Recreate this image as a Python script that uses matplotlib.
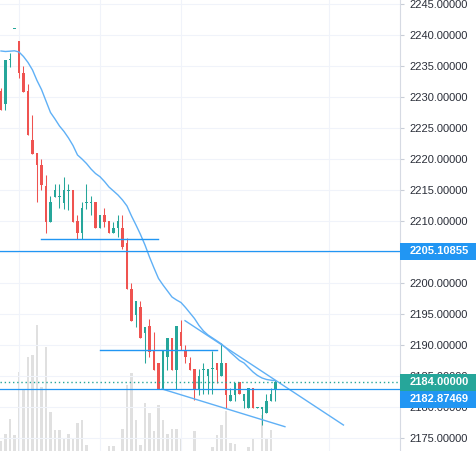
import numpy as np
import matplotlib
matplotlib.use("Agg")
import matplotlib.pyplot as plt
from matplotlib.patches import Rectangle
import matplotlib.transforms as mtransforms

# --- candle data (one entry per bar) ---
opens = [2230.97, 2228.87, 2235.97, 2240.90, 2239.03, 2233.87, 2230.97, 2223.06, 2220.97, 2219.03,
         2215.65, 2209.84, 2213.87, 2213.87, 2212.90, 2214.90, 2215.00, 2210.00, 2208.06, 2212.98,
         2212.98, 2213.06, 2208.87, 2210.97, 2210.00, 2208.06, 2208.87, 2208.87, 2206.45, 2199.03,
         2194.84, 2196.13, 2191.94, 2193.06, 2189.19, 2187.10, 2182.90, 2188.06, 2191.13, 2185.97,
         2192.10, 2189.03, 2187.10, 2186.13, 2182.90, 2185.97, 2185.00, 2186.05, 2187.10, 2185.00,
         2187.10, 2180.97, 2181.94, 2184.03, 2180.97, 2179.89, 2183.06, 2179.90, 2179.60, 2178.98,
         2181.02, 2182.90]
highs = [2231.45, 2235.97, 2237.10, 2241.00, 2239.03, 2235.00, 2232.10, 2227.10, 2220.97, 2220.00,
         2217.42, 2214.03, 2215.97, 2215.97, 2217.10, 2215.97, 2215.00, 2210.97, 2213.06, 2215.97,
         2214.03, 2213.06, 2210.97, 2212.10, 2210.00, 2209.84, 2210.97, 2210.97, 2207.26, 2200.00,
         2197.10, 2197.10, 2192.90, 2194.19, 2192.10, 2187.10, 2189.03, 2191.13, 2191.13, 2193.06,
         2194.03, 2190.00, 2188.06, 2186.13, 2186.13, 2187.10, 2186.13, 2189.03, 2187.10, 2190.32,
         2187.10, 2183.06, 2183.87, 2184.03, 2182.10, 2183.06, 2183.06, 2180.00, 2180.00, 2182.10,
         2183.06, 2184.35]
lows = [2227.90, 2227.90, 2234.84, 2240.90, 2233.06, 2230.81, 2223.87, 2220.81, 2213.06, 2215.00,
        2208.06, 2209.84, 2213.87, 2212.10, 2211.94, 2211.77, 2209.84, 2207.10, 2207.10, 2211.94,
        2210.97, 2208.87, 2208.87, 2209.03, 2208.06, 2208.06, 2207.42, 2205.48, 2199.03, 2193.87,
        2192.90, 2191.13, 2187.10, 2188.06, 2185.97, 2182.90, 2182.90, 2185.97, 2185.97, 2182.90,
        2189.19, 2187.10, 2185.97, 2181.13, 2181.94, 2182.10, 2182.10, 2182.10, 2183.87, 2185.00,
        2179.84, 2180.97, 2180.97, 2182.10, 2179.84, 2179.89, 2179.89, 2179.90, 2177.10, 2178.98,
        2181.02, 2181.02]
closes = [2227.90, 2235.97, 2236.13, 2241.00, 2233.87, 2230.81, 2223.87, 2220.81, 2219.03, 2215.81,
          2209.84, 2213.06, 2215.00, 2214.03, 2215.00, 2215.00, 2209.84, 2208.06, 2212.10, 2213.06,
          2213.06, 2208.87, 2210.97, 2209.84, 2208.06, 2208.87, 2210.00, 2205.81, 2199.03, 2193.87,
          2197.10, 2191.13, 2192.90, 2188.87, 2185.97, 2182.90, 2189.03, 2191.13, 2185.97, 2193.06,
          2189.84, 2188.06, 2185.97, 2182.90, 2185.00, 2186.13, 2186.13, 2186.13, 2185.97, 2187.10,
          2181.94, 2181.94, 2183.87, 2182.10, 2182.10, 2183.06, 2179.89, 2180.00, 2180.00, 2181.02,
          2182.10, 2184.00]

# volume (arbitrary units, only the relative height matters)
volumes = [10, 17, 32, 16, 79, 61, 94, 96, 126, 64,
           104, 39, 21, 21, 13, 17, 12, 28, 31, 6,
           0, 0, 0, 0, 5, 5, 0, 22, 66, 78,
           31, 6, 48, 38, 20, 46, 31, 17, 22, 22,
           13, 0, 0, 20, 0, 0, 0, 4, 16, 26,
           40, 8, 7, 0, 0, 4, 13, 0, 36, 13,
           21, 0]

# moving average drawn on the chart
ma_values = [2237.42, 2237.34, 2237.39, 2237.45, 2237.26, 2236.53, 2235.57, 2234.36, 2232.66, 2231.21,
             2229.35, 2227.50, 2226.45, 2225.32, 2224.44, 2223.39, 2222.18, 2220.65, 2220.00, 2219.27,
             2218.39, 2217.66, 2217.14, 2216.37, 2215.48, 2214.84, 2214.19, 2213.39, 2212.42, 2210.81,
             2209.35, 2207.82, 2206.13, 2204.19, 2202.42, 2200.73, 2199.68, 2198.71, 2197.74, 2197.26,
             2196.85, 2196.05, 2195.16, 2194.27, 2193.15, 2192.26, 2191.61, 2191.13, 2190.65, 2190.16,
             2189.52, 2188.79, 2188.15, 2187.50, 2187.10, 2186.37, 2185.65, 2185.08, 2184.68, 2184.44,
             2184.32, 2184.24]

# drawings: trend lines (bar index, price) and short horizontal segments
upper_trend = ([40.9, 76.1], [2193.92, 2177.09])
lower_trend = ([35.8, 63.1], [2182.90, 2176.82])
segments = [(9.0, 35.0, 2207.05), (22.0, 47.9, 2189.15)]

# full-width price lines
price_line_1 = 2205.10855
price_line_2 = 2182.87469
last_price = 2184.00

price_ticks = list(range(2175, 2250, 5))
time_grid = [4, 22, 40, 73]

GREEN = "#26a69a"
RED = "#ef5350"
BLUE = "#2196f3"
LIGHT_BLUE = "#5fb0f6"
GRID = "#f0f3fa"

idx = np.arange(len(closes))
opens = np.array(opens)
closes = np.array(closes)
up = closes >= opens
colors = np.where(up, GREEN, RED)

fig = plt.figure(figsize=(4.77, 4.51), dpi=100)
fig.patch.set_facecolor("white")
plot_w = 400 / 477

xlim = (-0.22, 88.67)
ylim = (2172.90, 2245.645)

# --- volume in its own axes behind the price axes ---
ax_vol = fig.add_axes([0, 0, plot_w, 1])
ax_vol.bar(idx, volumes, width=0.65, color="#e0e0e0", linewidth=0)
ax_vol.set_xlim(*xlim)
ax_vol.set_ylim(0, 451)
ax_vol.axis("off")

# --- price axes ---
ax = fig.add_axes([0, 0, plot_w, 1], zorder=2)
ax.patch.set_alpha(0)
ax.set_xlim(*xlim)
ax.set_ylim(*ylim)

# grid
for p in price_ticks:
    ax.axhline(p, color=GRID, lw=0.8, zorder=0)
for t in time_grid:
    ax.axvline(t, color=GRID, lw=0.8, zorder=0)

# candles: wicks then bodies
ax.vlines(idx, lows, highs, colors=colors, lw=0.75, zorder=3)
body_low = np.minimum(opens, closes)
body_h = np.maximum(np.abs(closes - opens), 0.16)
ax.bar(idx, body_h, bottom=body_low, width=0.65, color=colors, linewidth=0, zorder=4)

# moving average
ax.plot(idx, ma_values, color=LIGHT_BLUE, lw=1.0, zorder=5)

# trend lines and horizontal drawings
ax.plot(upper_trend[0], upper_trend[1], color=LIGHT_BLUE, lw=1.0, zorder=5)
ax.plot(lower_trend[0], lower_trend[1], color=LIGHT_BLUE, lw=1.0, zorder=5)
for x0, x1, p in segments:
    ax.plot([x0, x1], [p, p], color=BLUE, lw=1.0, zorder=5)

ax.axhline(price_line_1, color=BLUE, lw=0.9, zorder=5)
ax.axhline(price_line_2, color=BLUE, lw=0.9, zorder=5)
ax.axhline(last_price, color=GREEN, lw=1.0, ls=(0, (1, 2)), zorder=5)

# right price scale
for s in ["top", "left", "bottom"]:
    ax.spines[s].set_visible(False)
ax.spines["right"].set_color("#d6dae3")
ax.spines["right"].set_linewidth(0.8)
ax.set_xticks([])
ax.yaxis.tick_right()
ax.set_yticks(price_ticks)
# the 2205 label sits fully under the coloured price label, so leave it blank
ax.set_yticklabels(["" if p == 2205 else f"{p:.5f}" for p in price_ticks])
ax.tick_params(axis="y", length=3, width=0.8, color="#c9ced8", pad=4,
               labelsize=8, labelcolor="#2a2e39")
for lbl in ax.get_yticklabels():
    lbl.set_fontfamily("Liberation Sans")

# coloured price labels on the scale
trans = mtransforms.blended_transform_factory(ax.transAxes, ax.transData)
box_h = 17 / 6.2
box_w = 77 / 400
label_list = [(price_line_1, price_line_1, BLUE),
              (last_price, last_price, GREEN),
              (price_line_2, min(price_line_2, last_price - box_h), BLUE)]
for value, pos, col in label_list:
    ax.add_patch(Rectangle((1.0, pos - box_h / 2), box_w, box_h, transform=trans,
                           facecolor=col, edgecolor="none", clip_on=False, zorder=10))
    ax.text(1.025, pos, f"{value:.5f}", transform=trans, color="white", fontsize=8,
            fontfamily="Liberation Sans", fontweight="bold", va="center", ha="left",
            clip_on=False, zorder=11)

plt.savefig("out.png", dpi=100, facecolor="white")
print("saved out.png")
